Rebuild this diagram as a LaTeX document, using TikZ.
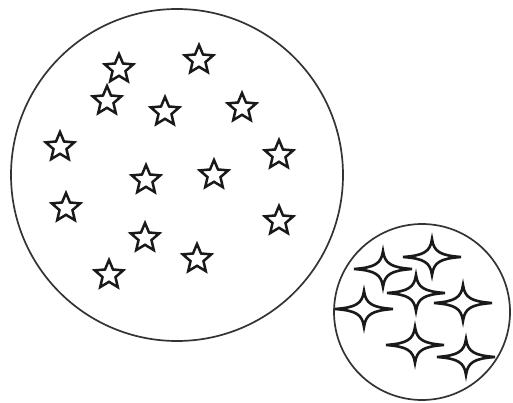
\documentclass[tikz,border=0pt]{standalone}
\begin{document}
\begin{tikzpicture}[x=1pt,y=-1pt,
  ring/.style={draw=black!80,line width=1.7pt},
  starline/.style={draw=black!90,line width=2.5pt,line join=miter},
  sparkline/.style={draw=black!90,line width=2.6pt,line join=miter},
  pics/fivestar/.style={code={
    \draw[starline] (-90:15) -- (-54:6.8) -- (-18:15) -- (18:6.8) -- (54:15) -- (90:6.8)
      -- (126:15) -- (162:6.8) -- (198:15) -- (234:6.8) -- cycle;}},
  pics/sparkle/.style={code={
    \draw[sparkline] (-29,0) .. controls (-8,-1.5) and (-1.6,-5.5) .. (0,-18)
      .. controls (1.6,-5.5) and (8,-1.5) .. (29,0)
      .. controls (8,1.5) and (1.6,5.5) .. (0,18)
      .. controls (-1.6,5.5) and (-8,1.5) .. cycle;}}]
\useasboundingbox (0,0) rectangle (513,403);
\fill[white] (0,0) rectangle (513,403);
\node[ring,circle,minimum size=332pt,inner sep=0pt] (big) at (177,175) {};
\node[ring,circle,minimum size=176pt,inner sep=0pt] (small) at (422,312) {};
\foreach \x/\y in {119/69,199/60,107/101,165/112,242/108,60/147,279/155,146/180,214/175,66/208,279/221,145/238,197/259,109/275}
  \pic at (\x,\y) {fivestar};
\foreach \x/\y in {383/269,432/257,416/293,364/309,463/303,415/345,466/357}
  \pic at (\x,\y) {sparkle};
\end{tikzpicture}
\end{document}
